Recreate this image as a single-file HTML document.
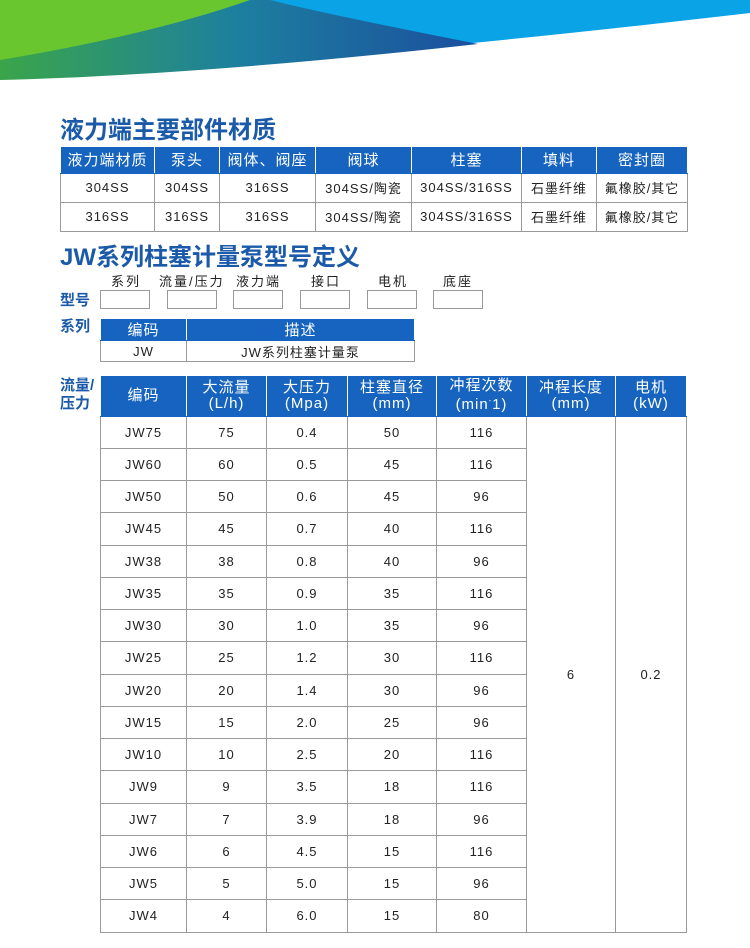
<!DOCTYPE html>
<html><head><meta charset="utf-8"><style>
body{margin:0;width:750px;height:948px;background:#fff;position:relative;overflow:hidden;font-family:"Liberation Sans","Noto Sans CJK SC",sans-serif;color:#222}
.a{position:absolute}
table{border-collapse:collapse;position:absolute;table-layout:fixed}
td{border:1px solid #9a9a9a;text-align:center;font-size:13px;padding:0;letter-spacing:1px}
tr.h td{background:#1664bf;color:#fff;font-size:15px;border-color:#fff #fff #1664bf #fff;border-top:none}
.t{color:#1a5aa8;font-weight:bold;font-size:24px}
.l{color:#1a5aa8;font-weight:bold;font-size:15px;line-height:18px}
.box{position:absolute;top:290px;width:48px;height:17px;border:1px solid #999}
.lab{position:absolute;top:275px;font-size:13px;line-height:14px;letter-spacing:2px}
</style></head><body>
<svg class="a" style="left:0;top:0" width="750" height="90">
<defs><linearGradient id="g" x1="0" x2="1"><stop offset="0" stop-color="#3aa54a"/><stop offset="0.5" stop-color="#1d7f9f"/><stop offset="1" stop-color="#1b4e9e"/></linearGradient></defs>
<path d="M0 0 L750 0 L750 13 Q560 35 400 50 L330 45 Q300 30 190 0 Z" fill="#0aa3e6"/>
<path d="M0 80 Q200 75 478 44 Q330 15 270 0 L0 0 Z" fill="url(#g)"/>
<path d="M0 60 Q150 35 250 0 L0 0 Z" fill="#6ac62f"/>
</svg>
<div class="a t" style="left:60px;top:110px">液力端主要部件材质</div>
<table style="left:60px;top:147px;width:627px">
<colgroup><col style="width:94px"><col style="width:65px"><col style="width:96px"><col style="width:96px"><col style="width:110px"><col style="width:75px"><col style="width:91px"></colgroup>
<tr class="h" style="height:26px"><td>液力端材质</td><td>泵头</td><td>阀体、阀座</td><td>阀球</td><td>柱塞</td><td>填料</td><td>密封圈</td></tr>
<tr style="height:29px"><td>304SS</td><td>304SS</td><td>316SS</td><td>304SS/陶瓷</td><td>304SS/316SS</td><td>石墨纤维</td><td>氟橡胶/其它</td></tr>
<tr style="height:29px"><td>316SS</td><td>316SS</td><td>316SS</td><td>304SS/陶瓷</td><td>304SS/316SS</td><td>石墨纤维</td><td>氟橡胶/其它</td></tr>
</table>
<div class="a t" style="left:60px;top:245px;font-size:24px;line-height:26px">JW系列柱塞计量泵型号定义</div>
<div class="lab" style="left:111px">系列</div><div class="lab" style="left:159px">流量/压力</div><div class="lab" style="left:236px">液力端</div><div class="lab" style="left:311px">接口</div><div class="lab" style="left:378px">电机</div><div class="lab" style="left:443px">底座</div>
<div class="a l" style="left:60px;top:292px">型号</div>
<div class="box" style="left:100px"></div><div class="box" style="left:167px"></div><div class="box" style="left:233px"></div><div class="box" style="left:300px"></div><div class="box" style="left:367px"></div><div class="box" style="left:433px"></div>
<div class="a l" style="left:60px;top:318px">系列</div>
<table style="left:100px;top:319px;width:315px">
<colgroup><col style="width:86px"><col></colgroup>
<tr class="h" style="height:21px"><td>编码</td><td>描述</td></tr>
<tr style="height:21px"><td>JW</td><td>JW系列柱塞计量泵</td></tr>
</table>
<div class="a l" style="left:60px;top:377px">流量/<br>压力</div>
<table style="left:100px;top:376px;width:586px">
<colgroup><col style="width:86px"><col style="width:80px"><col style="width:81px"><col style="width:89px"><col style="width:90px"><col style="width:89px"><col style="width:71px"></colgroup>
<tr class="h" style="height:40px;line-height:16px"><td>编码</td><td>大流量<br>(L/h)</td><td>大压力<br>(Mpa)</td><td>柱塞直径<br>(mm)</td><td>冲程次数<br>(min<sup style="font-size:7px">-</sup>1)</td><td>冲程长度<br>(mm)</td><td>电机<br>(kW)</td></tr>
<tr style="height:32.25px"><td>JW75</td><td>75</td><td>0.4</td><td>50</td><td>116</td><td rowspan="16">6</td><td rowspan="16">0.2</td></tr>
<tr style="height:32.25px"><td>JW60</td><td>60</td><td>0.5</td><td>45</td><td>116</td></tr>
<tr style="height:32.25px"><td>JW50</td><td>50</td><td>0.6</td><td>45</td><td>96</td></tr>
<tr style="height:32.25px"><td>JW45</td><td>45</td><td>0.7</td><td>40</td><td>116</td></tr>
<tr style="height:32.25px"><td>JW38</td><td>38</td><td>0.8</td><td>40</td><td>96</td></tr>
<tr style="height:32.25px"><td>JW35</td><td>35</td><td>0.9</td><td>35</td><td>116</td></tr>
<tr style="height:32.25px"><td>JW30</td><td>30</td><td>1.0</td><td>35</td><td>96</td></tr>
<tr style="height:32.25px"><td>JW25</td><td>25</td><td>1.2</td><td>30</td><td>116</td></tr>
<tr style="height:32.25px"><td>JW20</td><td>20</td><td>1.4</td><td>30</td><td>96</td></tr>
<tr style="height:32.25px"><td>JW15</td><td>15</td><td>2.0</td><td>25</td><td>96</td></tr>
<tr style="height:32.25px"><td>JW10</td><td>10</td><td>2.5</td><td>20</td><td>116</td></tr>
<tr style="height:32.25px"><td>JW9</td><td>9</td><td>3.5</td><td>18</td><td>116</td></tr>
<tr style="height:32.25px"><td>JW7</td><td>7</td><td>3.9</td><td>18</td><td>96</td></tr>
<tr style="height:32.25px"><td>JW6</td><td>6</td><td>4.5</td><td>15</td><td>116</td></tr>
<tr style="height:32.25px"><td>JW5</td><td>5</td><td>5.0</td><td>15</td><td>96</td></tr>
<tr style="height:32.25px"><td>JW4</td><td>4</td><td>6.0</td><td>15</td><td>80</td></tr>
</table>
</body></html>
